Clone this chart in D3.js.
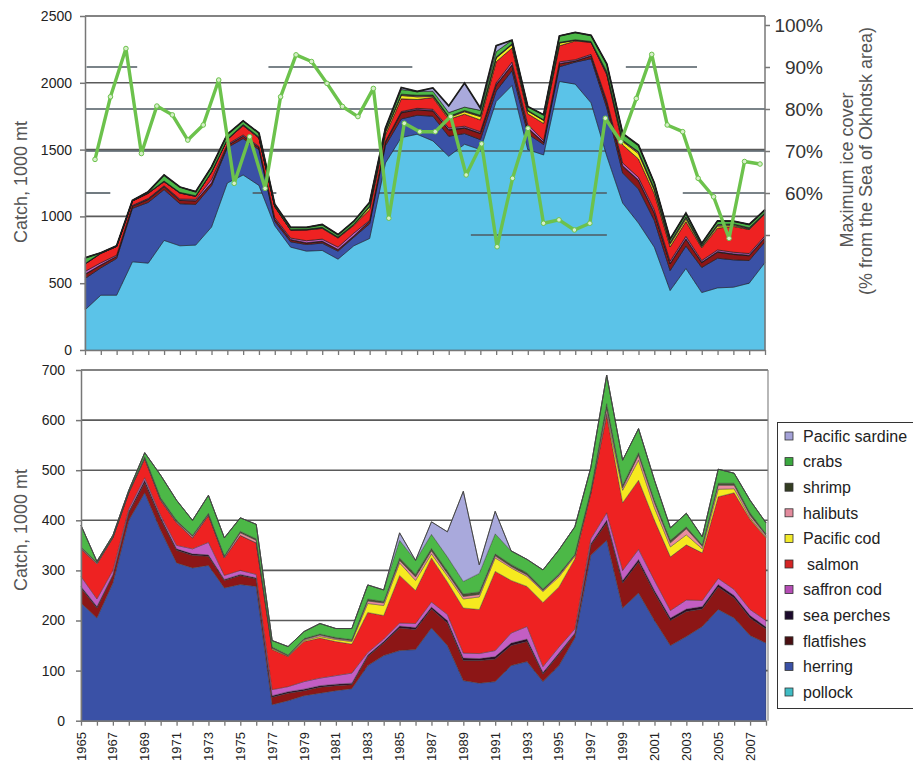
<!DOCTYPE html>
<html>
<head>
<meta charset="utf-8">
<script src="https://cdn.jsdelivr.net/npm/d3@7"></script>
<style>
  html, body { margin: 0; padding: 0; background: #fff; }
  svg { display: block; font-family: "Liberation Sans", Arial, sans-serif; }
</style>
</head>
<body>
<svg id="chart" width="913" height="767"></svg>
<script>
// ---------------- DATA ----------------
const years = [1965,1966,1967,1968,1969,1970,1971,1972,1973,1974,1975,1976,1977,1978,1979,1980,1981,1982,1983,1984,1985,1986,1987,1988,1989,1990,1991,1992,1993,1994,1995,1996,1997,1998,1999,2000,2001,2002,2003,2004,2005,2006,2007,2008];

const pollock   = [300,410,410,660,650,820,780,785,920,1250,1310,1232,930,770,740,745,680,780,835,1400,1590,1615,1565,1450,1540,1500,1860,1980,1500,1460,2010,1990,1850,1450,1100,950,770,445,610,430,465,470,500,655];
const herring   = [235,205,275,400,455,380,315,305,310,265,272,268,32,40,50,55,60,64,110,130,140,142,185,150,80,75,78,110,118,78,110,165,330,360,225,255,200,150,168,188,222,205,170,155];
const flatfishes= [30,20,15,15,20,22,25,25,18,15,18,15,15,15,10,12,10,8,18,25,45,40,38,45,40,45,45,40,40,15,22,8,20,35,50,62,55,50,50,35,45,40,35,28];
const seaPerches= [3,3,2,3,5,4,3,3,3,2,2,2,3,3,3,3,3,3,3,3,4,4,4,5,5,4,5,5,5,3,3,2,3,5,5,5,5,5,5,5,5,5,5,4];
const saffronCod= [20,15,8,5,5,4,7,10,25,8,8,7,12,10,15,15,17,20,5,5,6,8,10,12,10,10,12,20,25,12,12,8,10,15,20,20,20,15,18,12,12,12,12,13];
const salmon    = [55,70,65,32,38,30,45,22,54,35,70,63,80,60,80,80,68,58,80,47,95,66,88,65,90,88,158,105,80,128,120,140,90,195,135,138,120,107,110,95,163,193,180,165];
const pacificCod= [0,0,0,0,0,0,0,0,0,0,0,0,2,1,2,3,4,5,18,20,25,20,8,12,18,25,27,25,20,22,20,5,2,3,25,40,25,20,20,8,15,8,3,2];
const halibuts  = [2,2,1,1,2,2,2,3,2,2,5,5,1,1,2,3,2,2,5,5,5,7,6,5,5,5,4,3,3,2,3,2,2,10,5,10,10,8,12,5,8,7,5,3];
const shrimp    = [2,1,1,1,2,3,3,2,2,2,3,3,2,1,2,2,2,2,4,3,5,5,5,5,5,5,4,4,4,3,3,2,3,10,5,5,5,5,4,3,4,4,5,3];
const crabs     = [43,2,3,3,8,45,40,30,36,36,27,29,13,17,14,21,18,22,28,23,35,28,28,28,25,37,40,27,27,38,48,55,45,57,50,48,40,25,27,16,28,20,25,22];
const sardine   = [0,0,0,0,0,0,0,0,0,0,0,0,0,0,0,0,0,0,0,0,15,0,25,50,180,17,45,0,0,0,0,0,0,0,0,0,0,0,0,0,0,0,0,0];

// Maximum ice cover, % of the Sea of Okhotsk area
const iceCover = [68.0,82.9,94.4,69.4,80.7,78.6,72.6,76.2,86.9,62.3,73.4,61.1,82.9,92.9,91.3,86.1,80.6,78.2,84.9,54.0,76.6,74.6,74.6,78.2,64.3,71.7,47.2,63.5,75.4,52.8,53.6,51.2,52.8,77.8,72.2,82.5,93.0,76.2,74.6,63.5,59.1,49.2,67.5,66.9];

// Horizontal reference levels of ice cover (level %, from year, to year)
const iceLevels = [
  [90, 1965.1, 1968.3], [90, 1976.6, 1985.7], [90, 1999.2, 2003.7],
  [80, 1965, 2008], [70, 1965, 2008],
  [60, 1965, 1966.6], [60, 1975.6, 1977.1], [60, 1983.3, 1998.0], [60, 2002.8, 2008],
  [50, 1989.4, 1998.0]
];

const seriesKeys   = ["pollock","herring","flatfishes","sea perches","saffron cod","salmon","Pacific cod","halibuts","shrimp","crabs","Pacific sardine"];
const seriesValues = [pollock, herring, flatfishes, seaPerches, saffronCod, salmon, pacificCod, halibuts, shrimp, crabs, sardine];
const areaColors   = ["#5bc3e8","#3a51a6","#8c1616","#2a0c24","#c35ec3","#ee2222","#f6ea1f","#e98d9e","#4a5232","#4cb847","#a9a9dc"];
const legendColors = ["#3fbcc4","#3a51a6","#4a0f12","#1c0a2c","#b54cb5","#d42424","#f2ea2a","#e38b9d","#333d22","#3aa83f","#a4a2d8"];

const topTicks    = [0,500,1000,1500,2000,2500];
const bottomTicks = [0,100,200,300,400,500,600,700];
const iceTicks    = [50,60,70,80,90,100];
const iceTickLabels = ["","60%","70%","80%","90%","100%"];
const yearLabels  = [1965,1967,1969,1971,1973,1975,1977,1979,1981,1983,1985,1987,1989,1991,1993,1995,1997,1999,2001,2003,2005,2007];

// ---------------- DRAW ----------------
const svg = d3.select("#chart");
const FONT = "'Liberation Sans', Arial, sans-serif";

const rows = years.map((yr, i) => {
  const r = { year: yr };
  seriesKeys.forEach((k, j) => r[k] = seriesValues[j][i]);
  return r;
});
const colorOf = d3.scaleOrdinal().domain(seriesKeys).range(areaColors);

// ===== TOP PANEL =====
const xT = d3.scaleLinear().domain([1965, 2008]).range([85, 765]);
const yT = d3.scaleLinear().domain([0, 2500]).range([350, 16]);
const yIce = d3.scaleLinear().domain([60, 100]).range([193, 25]);
const xIce = d3.scaleLinear().domain([1965, 2008]).range([95, 760]);

const stackTop = d3.stack().keys(seriesKeys)(rows);
const areaT = d3.area().x(d => xT(d.data.year)).y0(d => yT(d[0])).y1(d => yT(d[1]));

const gTop = svg.append("g");
// catch gridlines (behind everything)
gTop.append("g").selectAll("line").data(topTicks.filter(t => t > 0)).join("line")
  .attr("x1", xT(1965)).attr("x2", xT(2008))
  .attr("y1", d => yT(d)).attr("y2", d => yT(d))
  .attr("stroke", "#5a5a5a").attr("stroke-width", 1.6);
// pollock
gTop.append("path").datum(stackTop[0]).attr("d", areaT)
  .attr("fill", colorOf("pollock")).attr("stroke", "#2f7fa6").attr("stroke-width", 0.5);
// ice reference levels (over pollock)
gTop.append("g").selectAll("line").data(iceLevels).join("line")
  .attr("x1", d => xT(d[1])).attr("x2", d => xT(d[2]))
  .attr("y1", d => yIce(d[0])).attr("y2", d => yIce(d[0]))
  .attr("stroke", "#4e5a62").attr("stroke-width", 1.6);

// other layers
gTop.append("g").selectAll("path").data(stackTop.slice(1)).join("path")
  .attr("d", areaT).attr("fill", d => colorOf(d.key))
  .attr("stroke", "#1a1a1a").attr("stroke-width", 0.6);
gTop.append("path").datum(stackTop[stackTop.length - 1])
  .attr("d", d3.line().x(d => xT(d.data.year)).y(d => yT(d[1])))
  .attr("fill", "none").attr("stroke", "#1c1c1c").attr("stroke-width", 1.8);

// axes
const axT = gTop.append("g").attr("transform", "translate(85,0)")
  .call(d3.axisLeft(yT).tickValues(topTicks).tickSize(5).tickSizeOuter(0).tickFormat(d3.format("d")));
axT.select(".domain").attr("stroke", "#777").attr("stroke-width", 1.5);
axT.selectAll(".tick line").attr("stroke", "#777").attr("stroke-width", 1.5);
axT.selectAll("text").attr("font-family", FONT).attr("font-size", 14).attr("fill", "#222").attr("x", -13);

const axTx = gTop.append("g").attr("transform", "translate(0,350)")
  .call(d3.axisBottom(xT).tickValues(years).tickSize(5).tickSizeOuter(0).tickFormat(""));
axTx.select(".domain").attr("stroke", "#777").attr("stroke-width", 1.5);
axTx.selectAll(".tick line").attr("stroke", "#777").attr("stroke-width", 1.3);

const axIce = gTop.append("g").attr("transform", "translate(765,0)")
  .call(d3.axisRight(yIce).tickValues(iceTicks).tickSize(5).tickSizeOuter(0).tickFormat((d, i) => iceTickLabels[i]));
axIce.select(".domain").remove();
axIce.selectAll(".tick line").attr("stroke", "#777").attr("stroke-width", 1.5);
axIce.selectAll("text").attr("font-family", FONT).attr("font-size", 19).attr("fill", "#333")
  .attr("text-anchor", "end").attr("x", 58);
gTop.append("line").attr("x1", 765).attr("x2", 765).attr("y1", yT(2500)).attr("y2", 350)
  .attr("stroke", "#777").attr("stroke-width", 1.5);

// ice cover line
gTop.append("path").datum(iceCover)
  .attr("d", d3.line().x((d, i) => xIce(years[i])).y(d => yIce(d)))
  .attr("fill", "none").attr("stroke", "#6cc24c").attr("stroke-width", 3.4).attr("stroke-linejoin", "round");
gTop.append("g").selectAll("circle").data(iceCover).join("circle")
  .attr("cx", (d, i) => xIce(years[i])).attr("cy", d => yIce(d)).attr("r", 2.3)
  .attr("fill", "#d6efc8").attr("stroke", "#6cc24c").attr("stroke-width", 1);

// titles
svg.append("text").attr("transform", "translate(27,182) rotate(-90)")
  .attr("text-anchor", "middle").attr("font-family", FONT).attr("font-size", 18).attr("fill", "#555")
  .text("Catch, 1000 mt");
svg.append("text").attr("transform", "translate(853,170) rotate(-90)")
  .attr("text-anchor", "middle").attr("font-family", FONT).attr("font-size", 18).attr("fill", "#555")
  .text("Maximum ice cover");
svg.append("text").attr("transform", "translate(872,161) rotate(-90)")
  .attr("text-anchor", "middle").attr("font-family", FONT).attr("font-size", 18).attr("fill", "#555")
  .text("(% from the Sea of Okhotsk area)");

// ===== BOTTOM PANEL =====
const bKeys = seriesKeys.slice(1);
const xB = d3.scaleLinear().domain([1965, 2008]).range([81, 766]);
const yB = d3.scaleLinear().domain([0, 700]).range([720.7, 370]);
const stackB = d3.stack().keys(bKeys)(rows);
const areaB = d3.area().x(d => xB(d.data.year)).y0(d => yB(d[0])).y1(d => yB(d[1]));

const gB = svg.append("g");
gB.append("g").selectAll("line").data(bottomTicks.filter(t => t > 0)).join("line")
  .attr("x1", 81).attr("x2", 768)
  .attr("y1", d => yB(d)).attr("y2", d => yB(d))
  .attr("stroke", "#5a5a5a").attr("stroke-width", 1.6);
gB.append("line").attr("x1", 768).attr("x2", 768).attr("y1", yB(700)).attr("y2", yB(0))
  .attr("stroke", "#888").attr("stroke-width", 1.2);

gB.append("g").selectAll("path").data(stackB).join("path")
  .attr("d", areaB).attr("fill", d => colorOf(d.key))
  .attr("stroke", "#3a3a3a").attr("stroke-width", 0.4);
gB.append("path").datum(stackB[stackB.length - 1])
  .attr("d", d3.line().x(d => xB(d.data.year)).y(d => yB(d[1])))
  .attr("fill", "none").attr("stroke", "#444").attr("stroke-width", 1);

const axB = gB.append("g").attr("transform", "translate(81,0)")
  .call(d3.axisLeft(yB).tickValues(bottomTicks).tickSize(5).tickSizeOuter(0).tickFormat(d3.format("d")));
axB.select(".domain").attr("stroke", "#777").attr("stroke-width", 1.5);
axB.selectAll(".tick line").attr("stroke", "#777").attr("stroke-width", 1.5);
axB.selectAll("text").attr("font-family", FONT).attr("font-size", 14).attr("fill", "#222").attr("x", -16);

const axBx = gB.append("g").attr("transform", "translate(0,720.7)")
  .call(d3.axisBottom(xB).tickValues(years).tickSize(5).tickSizeOuter(0).tickFormat(""));
axBx.select(".domain").attr("stroke", "#777").attr("stroke-width", 1.5);
axBx.selectAll(".tick line").attr("stroke", "#777").attr("stroke-width", 1.3);

gB.append("g").selectAll("text").data(yearLabels).join("text")
  .attr("transform", d => `translate(${xB(d)},732) rotate(-90)`)
  .attr("text-anchor", "end").attr("dy", "0.35em")
  .attr("font-family", FONT).attr("font-size", 13).attr("fill", "#222")
  .text(d => d);

svg.append("text").attr("transform", "translate(27,530) rotate(-90)")
  .attr("text-anchor", "middle").attr("font-family", FONT).attr("font-size", 18).attr("fill", "#555")
  .text("Catch, 1000 mt");

// ===== LEGEND =====
const leg = svg.append("g");
leg.append("rect").attr("x", 777.5).attr("y", 422.5).attr("width", 150).attr("height", 286)
  .attr("fill", "#fff").attr("stroke", "#333").attr("stroke-width", 1);
const legendKeys = seriesKeys.slice().reverse();
const legendY = d3.scalePoint().domain(legendKeys).range([436, 692]);
const legendColorOf = d3.scaleOrdinal().domain(seriesKeys).range(legendColors);
const li = leg.selectAll("g.item").data(legendKeys).join("g").attr("class", "item")
  .attr("transform", d => `translate(0,${legendY(d)})`);
li.append("rect").attr("x", 785).attr("y", -4).attr("width", 8).attr("height", 8)
  .attr("fill", d => legendColorOf(d)).attr("stroke", "#333").attr("stroke-width", 0.8);
li.append("text").attr("x", d => d === "salmon" ? 807 : 803).attr("dy", "0.36em")
  .attr("font-family", FONT).attr("font-size", 16).attr("fill", "#222")
  .text(d => d);
</script>
</body>
</html>
